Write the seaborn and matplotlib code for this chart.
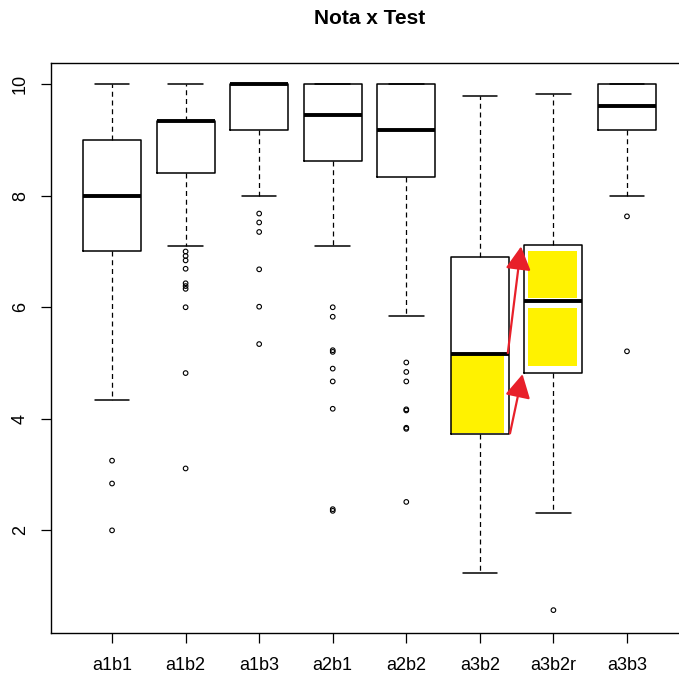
import numpy as np
import pandas as pd
import matplotlib
matplotlib.use('Agg')
import matplotlib.pyplot as plt
import seaborn as sns

# box summary values
groups = ['a1b1', 'a1b2', 'a1b3', 'a2b1', 'a2b2', 'a3b2', 'a3b2r', 'a3b3']
whis_lo = [4.33, 7.09, 8.00, 7.10, 5.84, 1.23, 2.32, 8.00]
q1 = [7.00, 8.41, 9.17, 8.62, 8.33, 3.73, 4.83, 9.18]
median = [8.00, 9.34, 10.0, 9.44, 9.17, 5.16, 6.12, 9.61]
q3 = [9.00, 9.34, 10.0, 10.0, 10.0, 6.90, 7.12, 10.0]
whis_hi = [10.0, 10.0, 10.0, 10.0, 10.0, 9.78, 9.82, 10.0]

outliers = {
    'a1b1': [3.25, 2.84, 2.00],
    'a1b2': [7.00, 6.92, 6.84, 6.69, 6.43, 6.38, 6.33, 6.00, 4.82, 3.11],
    'a1b3': [7.68, 7.52, 7.35, 6.68, 6.01, 5.34],
    'a2b1': [6.00, 5.83, 5.23, 5.20, 4.90, 4.67, 4.18, 2.38, 2.35],
    'a2b2': [5.01, 4.84, 4.67, 4.17, 4.15, 3.84, 3.82, 2.51],
    'a3b2': [],
    'a3b2r': [0.57],
    'a3b3': [7.63, 5.21],
}

# yellow highlights: (group, low, high)
highlights = [('a3b2', 3.74, 5.14), ('a3b2r', 6.16, 7.01), ('a3b2r', 4.94, 5.99)]
# red arrows: (x_from, y_from, x_to, y_to)
arrows = [(6.38, 5.18, 6.56, 7.09), (6.41, 3.74, 6.58, 4.80)]

sns.set_style('white')
plt.rcParams['font.family'] = ['Liberation Sans', 'DejaVu Sans']
plt.rcParams['text.color'] = 'black'
plt.rcParams['xtick.color'] = 'black'
plt.rcParams['ytick.color'] = 'black'

fig = plt.figure(figsize=(6.79, 6.77), dpi=100)
ax = fig.add_axes([0.0751, 0.065, 0.9382, 0.842])

pos = np.arange(1, len(groups) + 1)

# yellow patches under the box lines
for g, lo, hi in highlights:
    i = groups.index(g) + 1
    if g == 'a3b2':
        x0, x1 = i - 0.39, i + 0.33
    else:
        x0, x1 = i - 0.34, i + 0.32
    ax.fill_between([x0, x1], lo, hi, color='#FFF200', lw=0, zorder=1)

stats = [dict(label=g, whislo=whis_lo[k], q1=q1[k], med=median[k], q3=q3[k],
              whishi=whis_hi[k], fliers=[]) for k, g in enumerate(groups)]
ax.bxp(stats, positions=pos, widths=0.79, capwidths=0.47, showfliers=False,
       boxprops=dict(color='black', lw=1.1),
       whiskerprops=dict(color='black', lw=0.9, linestyle=(0, (4, 3))),
       capprops=dict(color='black', lw=1.1),
       medianprops=dict(color='black', lw=2.8, solid_capstyle='butt'))

out_df = pd.DataFrame([(groups.index(g) + 1, v) for g, vals in outliers.items() for v in vals],
                      columns=['pos', 'value'])
sns.scatterplot(data=out_df, x='pos', y='value', ax=ax, marker='o', s=11,
                facecolor='none', edgecolor='black', linewidth=0.8, zorder=3, legend=False)

for xa, ya, xb, yb in arrows:
    ax.annotate('', xy=(xb, yb), xytext=(xa, ya),
                arrowprops=dict(arrowstyle='-|>,head_length=0.55,head_width=0.3',
                                color='#E8202A', lw=1.6,
                                mutation_scale=26, shrinkA=0, shrinkB=0),
                zorder=4)

ax.set_xlim(0.17, 8.83)
ax.set_ylim(0.16, 10.38)
ax.set_xticks(pos)
ax.set_xticklabels(groups)
ax.set_yticks([2, 4, 6, 8, 10])
ax.set_xlabel('')
ax.set_ylabel('')
for sp in ax.spines.values():
    sp.set_color('black')
    sp.set_linewidth(1.0)
ax.tick_params(axis='x', bottom=True, direction='out', length=7, width=0.9,
               color='black', labelcolor='black', pad=10, labelsize=13)
ax.tick_params(axis='y', left=True, direction='out', length=7, width=0.9,
               color='black', labelcolor='black', pad=9, labelsize=13)
for t in ax.get_yticklabels():
    t.set_rotation(90)
    t.set_va('center')

fig.text(0.544, 0.972, 'Nota x Test', ha='center', va='center',
         fontsize=15, fontweight='bold', color='black')

fig.savefig('out.png', dpi=100)
